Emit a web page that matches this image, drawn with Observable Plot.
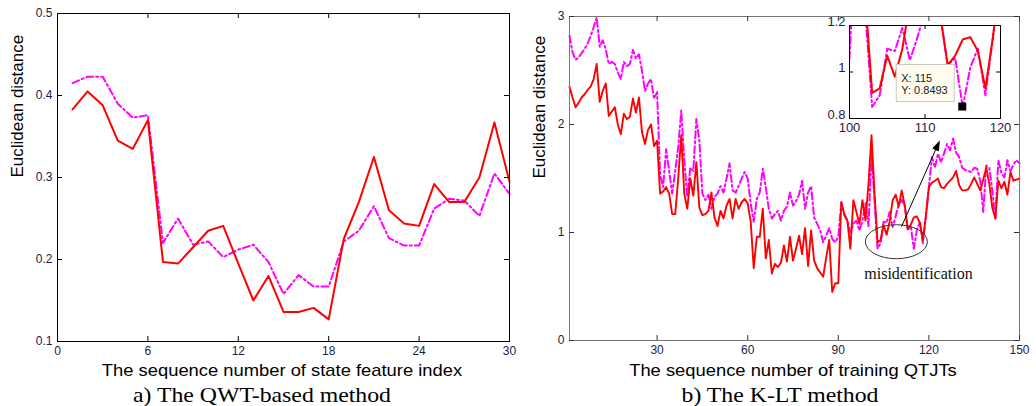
<!DOCTYPE html>
<html>
<head>
<meta charset="utf-8">
<script src="https://cdn.jsdelivr.net/npm/d3@7"></script>
<script src="https://cdn.jsdelivr.net/npm/@observablehq/plot@0.6"></script>
<style>
  html, body { margin: 0; padding: 0; background: #fff; }
  #wrap { position: relative; width: 1036px; height: 406px; background: #fff; overflow: hidden; }
  .svgbox { position: absolute; }
  .lbl { position: absolute; width: 500px; text-align: center; line-height: 1; white-space: nowrap; color: #000; }
  .axl { font-family: "Liberation Sans", Arial, sans-serif; font-size: 17px; transform: scaleX(1.08); }
  .cap { font-family: "Liberation Serif", "Times New Roman", serif; font-size: 22px; transform: scaleX(1.08); }
</style>
</head>
<body>
<div id="wrap">
  <div id="pa" class="svgbox" style="left:0;top:0"></div>
  <div id="pb" class="svgbox" style="left:520px;top:0"></div>
  <div id="pc" class="svgbox" style="left:820px;top:10px"></div>
  <div class="lbl axl" style="left:32px;top:362px">The sequence number of state feature index</div>
  <div class="lbl cap" style="left:12px;top:384px">a) The QWT-based method</div>
  <div class="lbl axl" style="left:543px;top:362px">The sequence number of training QTJTs</div>
  <div class="lbl cap" style="left:530px;top:384px">b) The K-LT method</div>
</div>
<script>
// ---------- Panel a) QWT-based method ----------
const qwtIndex = [1,2,3,4,5,6,7,8,9,10,11,12,13,14,15,16,17,18,19,20,21,22,23,24,25,26,27,28,29,30];
const qwtRed = [0.383,0.405,0.388,0.345,0.335,0.370,0.197,0.195,0.215,0.235,0.241,0.195,0.150,0.180,0.136,
                0.136,0.141,0.127,0.225,0.270,0.325,0.260,0.244,0.241,0.292,0.270,0.270,0.300,0.367,0.295];
const qwtMagenta = [0.415,0.423,0.423,0.390,0.373,0.376,0.220,0.250,0.218,0.222,0.203,0.212,0.218,0.197,0.158,
                    0.181,0.167,0.167,0.222,0.235,0.265,0.226,0.217,0.217,0.262,0.274,0.272,0.253,0.305,0.280];
const qwtXTicks = [0,6,12,18,24,30];
const qwtYTicks = [0.1,0.2,0.3,0.4,0.5];

// ---------- Panel b) K-LT method ----------
const kltIndex = d3.range(1, 151);
const kltRed = [
  2.35,2.25,2.16,2.20,2.25,2.28,2.32,2.35,2.42,2.56,
  2.21,2.31,2.38,2.08,2.12,2.16,2.00,1.91,2.10,2.05,
  2.07,2.24,2.11,2.25,1.93,1.82,1.95,2.00,1.80,1.85,
  1.36,1.38,1.42,1.36,1.17,1.17,1.50,1.90,1.36,1.22,
  1.50,1.34,1.65,1.23,1.16,1.17,1.20,1.37,1.14,1.06,
  1.20,1.13,1.25,1.31,1.13,1.31,1.22,1.28,1.31,1.27,
  1.10,0.67,0.96,0.96,1.22,0.76,0.93,0.62,0.71,0.68,
  0.72,0.88,0.73,0.96,0.74,0.85,0.97,0.80,1.04,0.69,
  1.02,0.74,0.67,0.63,0.59,0.77,0.93,0.45,0.53,0.53,
  1.28,1.17,1.11,0.85,1.30,1.19,1.08,1.30,1.11,1.45,
  1.90,1.36,0.91,0.93,1.07,0.98,1.10,1.30,1.35,1.24,
  1.39,1.25,1.03,1.07,1.14,1.15,1.09,0.93,1.15,1.42,
  1.46,1.48,1.50,1.42,1.41,1.45,1.48,1.51,1.57,1.44,
  1.39,1.39,1.40,1.45,1.51,1.45,1.39,1.49,1.60,1.45,
  1.23,1.13,1.48,1.41,1.47,1.35,1.56,1.48,1.49,1.50
];
const kltMagenta = [
  2.82,2.67,2.60,2.62,2.66,2.70,2.75,2.82,2.90,2.99,
  2.72,2.78,2.70,2.56,2.58,2.56,2.48,2.42,2.58,2.54,
  2.56,2.69,2.61,2.65,2.50,2.31,2.38,2.42,2.24,2.30,
  1.54,1.42,1.77,1.57,1.36,1.57,1.79,2.13,1.67,1.33,
  1.60,1.57,2.05,1.85,1.36,1.30,1.35,1.22,1.33,1.36,
  1.43,1.37,1.50,1.64,1.39,1.37,1.43,1.50,1.56,1.50,
  1.27,1.10,1.31,1.37,1.59,1.42,1.22,1.13,1.17,1.20,
  1.11,1.20,1.24,1.37,1.25,1.29,1.35,1.48,1.22,1.37,
  1.43,1.14,1.08,1.02,0.91,0.97,1.04,0.94,0.91,0.96,
  1.28,1.16,1.11,1.00,1.08,1.11,1.02,1.11,1.27,1.06,
  1.73,1.30,0.85,0.90,1.10,1.09,1.19,1.05,1.15,1.26,
  1.30,1.25,1.03,1.06,0.8493,1.02,1.10,0.90,1.15,1.42,
  1.70,1.60,1.73,1.65,1.73,1.82,1.76,1.87,1.74,1.70,
  1.60,1.58,1.57,1.56,1.60,1.59,1.48,1.19,1.62,1.60,
  1.39,1.13,1.67,1.55,1.51,1.67,1.57,1.63,1.67,1.64
];
const kltXTicks = [30,60,90,120,150];
const kltYTicks = [0,1,2,3];
const insetXTicks = [100,110,120];
const insetYTicks = [0.8,1,1.2];

// annotations
const tipPoint = [{x: 115, y: 0.8493}];
const tipLines = ["X: 115", "Y: 0.8493"];
const arrowData = [{x1: 111.1, y1: 1.05, x2: 123.8, y2: 1.85}];
const ellipseData = [{x: 109.4, y: 0.91}];
const noteData = [{x: 98.6, y: 0.62, text: "misidentification"}];

const RED = "#ff0000", MAG = "#ff00ff", TICKTXT = "#1c1c48";
const DASHDOT = "7,3,2,3";

const rowsA = qwtIndex.map((i, k) => ({i, red: qwtRed[k], mag: qwtMagenta[k]}));
const rowsB = kltIndex.map((i, k) => ({i, red: kltRed[k], mag: kltMagenta[k]}));

function innerTicks(xt, yt, fw, fh, color, len = 5) {
  return [
    Plot.ruleX(xt, {insetTop: fh - len, stroke: color}),
    Plot.ruleX(xt, {insetBottom: fh - len, stroke: color}),
    Plot.ruleY(yt, {insetRight: fw - len, stroke: color}),
    Plot.ruleY(yt, {insetLeft: fw - len, stroke: color})
  ];
}

// ---- Plot A ----
{
  const W = 520, H = 362, mL = 57, mR = 11, mT = 13, mB = 21;
  const fw = W - mL - mR, fh = H - mT - mB;
  const p = Plot.plot({
    width: W, height: H, marginLeft: mL, marginRight: mR, marginTop: mT, marginBottom: mB,
    style: {background: "transparent", fontFamily: "'Liberation Sans', Arial, sans-serif"},
    x: {domain: [0, 30]},
    y: {domain: [0.1, 0.5]},
    marks: [
      Plot.lineY(rowsA, {x: "i", y: "mag", stroke: MAG, strokeWidth: 2, strokeDasharray: DASHDOT}),
      Plot.lineY(rowsA, {x: "i", y: "red", stroke: RED, strokeWidth: 2}),
      Plot.frame({stroke: "#000"}),
      ...innerTicks(qwtXTicks, qwtYTicks, fw, fh, "#000"),
      Plot.axisX(qwtXTicks, {tickSize: 0, tickPadding: 5, label: null, fontSize: 12, color: TICKTXT, tickFormat: d => String(d)}),
      Plot.axisY(qwtYTicks, {tickSize: 0, tickPadding: 5, label: null, fontSize: 12, color: TICKTXT, tickFormat: d => String(d)}),
      Plot.text(["Euclidean distance"], {frameAnchor: "left", dx: -40, rotate: -90, fontSize: 17, fill: "#000"})
    ]
  });
  document.getElementById("pa").appendChild(p);
}

// ---- Plot B ----
{
  const W = 516, H = 362, mL = 49, mR = 17, mT = 16, mB = 22;
  const fw = W - mL - mR, fh = H - mT - mB;
  const ellipseMark = (index, scales) => {
    const g = d3.create("svg:g");
    for (const d of ellipseData) {
      g.append("ellipse").attr("cx", scales.x(d.x)).attr("cy", scales.y(d.y))
        .attr("rx", 31).attr("ry", 17).attr("fill", "none").attr("stroke", "#333").attr("stroke-width", 1);
    }
    return g.node();
  };
  const arrowMark = (index, scales) => {
    const g = d3.create("svg:g");
    for (const d of arrowData) {
      const ax = scales.x(d.x1), ay = scales.y(d.y1), bx = scales.x(d.x2), by = scales.y(d.y2);
      const ang = Math.atan2(by - ay, bx - ax), L = 11, w = 0.33;
      const hx = bx - L * Math.cos(ang), hy = by - L * Math.sin(ang);
      g.append("line").attr("x1", ax).attr("y1", ay).attr("x2", hx).attr("y2", hy)
        .attr("stroke", "#000").attr("stroke-width", 1);
      const p1 = [bx - L * Math.cos(ang - w), by - L * Math.sin(ang - w)];
      const p2 = [bx - L * Math.cos(ang + w), by - L * Math.sin(ang + w)];
      g.append("path").attr("d", `M${bx},${by}L${p1[0]},${p1[1]}L${hx},${hy}L${p2[0]},${p2[1]}Z`).attr("fill", "#000");
    }
    return g.node();
  };
  const p = Plot.plot({
    width: W, height: H, marginLeft: mL, marginRight: mR, marginTop: mT, marginBottom: mB,
    style: {background: "transparent", fontFamily: "'Liberation Sans', Arial, sans-serif"},
    x: {domain: [1, 150]},
    y: {domain: [0, 3]},
    marks: [
      Plot.lineY(rowsB, {x: "i", y: "mag", stroke: MAG, strokeWidth: 2, strokeDasharray: DASHDOT}),
      Plot.lineY(rowsB, {x: "i", y: "red", stroke: RED, strokeWidth: 1.9}),
      Plot.frame({stroke: "#777"}),
      ...innerTicks(kltXTicks, kltYTicks, fw, fh, "#333"),
      Plot.axisX(kltXTicks, {tickSize: 0, tickPadding: 5, label: null, fontSize: 12, color: TICKTXT, tickFormat: d => String(d)}),
      Plot.axisY(kltYTicks, {tickSize: 0, tickPadding: 5, label: null, fontSize: 12, color: TICKTXT, tickFormat: d => String(d)}),
      Plot.text(["Euclidean distance"], {frameAnchor: "left", dx: -30, rotate: -90, fontSize: 17, fill: "#000"}),
      ellipseMark,
      arrowMark,
      Plot.text(noteData, {x: "x", y: "y", text: "text", textAnchor: "start", fontSize: 16, fill: "#111", fontFamily: "'Liberation Serif', 'Times New Roman', serif"})
    ]
  });
  document.getElementById("pb").appendChild(p);
}

// ---- Inset ----
{
  const W = 190, H = 125, mL = 29, mR = 10, mT = 15, mB = 17;
  const fw = W - mL - mR, fh = H - mT - mB;
  const tipMark = (index, scales) => {
    const g = d3.create("svg:g");
    const d = tipPoint[0];
    const px = scales.x(d.x), py = scales.y(d.y);
    g.append("rect").attr("x", px - 66).attr("y", py - 42).attr("width", 58).attr("height", 37)
      .attr("fill", "#fffcee").attr("stroke", "#c8c8c8").attr("stroke-width", 1);
    tipLines.forEach((t, k) => {
      g.append("text").attr("x", px - 61).attr("y", py - 25 + k * 12.5).attr("text-anchor", "start")
        .attr("font-size", 11).attr("fill", "#222").attr("font-family", "'Liberation Sans', Arial, sans-serif").text(t);
    });
    g.append("rect").attr("x", px - 4).attr("y", py - 4).attr("width", 8).attr("height", 8).attr("fill", "#000");
    return g.node();
  };
  const p = Plot.plot({
    width: W, height: H, marginLeft: mL, marginRight: mR, marginTop: mT, marginBottom: mB,
    style: {background: "transparent", fontFamily: "'Liberation Sans', Arial, sans-serif", overflow: "visible"},
    x: {domain: [100, 120]},
    y: {domain: [0.8, 1.2]},
    marks: [
      Plot.frame({fill: "#fff", stroke: null}),
      Plot.lineY(rowsB, {x: "i", y: "mag", stroke: MAG, strokeWidth: 2, strokeDasharray: DASHDOT, clip: true}),
      Plot.lineY(rowsB, {x: "i", y: "red", stroke: RED, strokeWidth: 2, clip: true}),
      Plot.frame({stroke: "#000"}),
      ...innerTicks(insetXTicks, insetYTicks, fw, fh, "#000", 4),
      Plot.axisX(insetXTicks, {tickSize: 0, tickPadding: 4, label: null, fontSize: 13, color: TICKTXT, tickFormat: d => String(d)}),
      Plot.axisY(insetYTicks, {tickSize: 0, tickPadding: 4, label: null, fontSize: 13, color: TICKTXT, tickFormat: d => String(d), dy: -4}),
      tipMark
    ]
  });
  document.getElementById("pc").appendChild(p);
}
</script>
</body>
</html>
